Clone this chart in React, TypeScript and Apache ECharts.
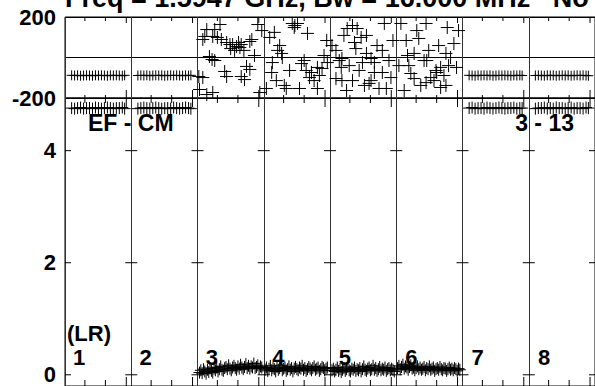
import React, { useEffect, useRef } from "react";
import * as echarts from "echarts";

// ---------- texts ----------
const titleText = "Freq = 1.5947 GHz, Bw = 16.000 MHz   No calibration applied";
const baselineLeft = "EF - CM";
const baselineRight = "3 - 13";
const stokesLabel = "(LR)";
const panelLabels = ["1", "2", "3", "4", "5", "6", "7", "8"];
const phaseLabelValues = [200, -200];
const ampLabelValues = [0, 2, 4];
const timeTickFractions = [0.3, 0.61, 0.925];
const phaseRange = [-200, 200];
const ampRange = [-0.2, 4.94];

// ---------- data: panels 1,2,7,8 (steady) ----------
const flatTimes = [0.1, 0.145, 0.19, 0.235, 0.28, 0.325, 0.37, 0.415, 0.46, 0.505, 0.55, 0.595, 0.64, 0.685, 0.73, 0.775, 0.82, 0.865, 0.9];
const phaseIF1 = [-88, -89, -88, -90, -89, -88, -89, -90, -88, -89, -88, -89, -90, -88, -89, -88, -89, -90, -88];
const phaseIF2 = [-89, -88, -89, -88, -90, -89, -88, -89, -88, -90, -89, -88, -89, -88, -89, -90, -88, -89, -88];
const phaseIF7 = [-88, -89, -90, -88, -89, -88, -89, -88, -90, -89, -88, -89, -88, -89, -90, -88, -89, -88, -89];
const phaseIF8 = [-89, -88, -89, -90, -88, -89, -88, -90, -89, -88, -89, -88, -90, -89, -88, -89, -88, -89, -90];
const ampIF1 = [4.76, 4.75, 4.76, 4.77, 4.75, 4.76, 4.76, 4.75, 4.77, 4.76, 4.75, 4.76, 4.77, 4.76, 4.75, 4.76, 4.76, 4.77, 4.75];
const ampIF2 = [4.75, 4.76, 4.77, 4.76, 4.75, 4.76, 4.77, 4.76, 4.75, 4.76, 4.76, 4.75, 4.77, 4.76, 4.75, 4.76, 4.77, 4.76, 4.75];
const ampIF7 = [4.76, 4.77, 4.75, 4.76, 4.76, 4.75, 4.77, 4.76, 4.75, 4.76, 4.77, 4.76, 4.75, 4.76, 4.76, 4.77, 4.75, 4.76, 4.76];
const ampIF8 = [4.75, 4.76, 4.76, 4.77, 4.75, 4.76, 4.75, 4.77, 4.76, 4.76, 4.75, 4.76, 4.77, 4.75, 4.76, 4.76, 4.75, 4.77, 4.76];

// ---------- data: panels 3-6 (noisy), [time fraction, value] ----------
const phaseIF3 = [[0.02,-94],[0.03,-158],[0.08,-99],[0.08,89],[0.11,104],[0.14,138],[0.14,-183],[0.18,5],[0.22,-10],[0.23,104],[0.23,-173],[0.26,138],[0.26,-15],[0.3,99],[0.34,163],[0.36,89],[0.41,-69],[0.44,74],[0.44,-94],[0.49,64],[0.5,44],[0.53,64],[0.56,35],[0.59,54],[0.62,74],[0.64,49],[0.66,64],[0.66,-94],[0.7,35],[0.71,-109],[0.74,-44],[0.79,79],[0.79,-59],[0.82,89],[0.86,10],[0.91,163],[0.94,-173],[0.97,133]];
const phaseIF4 = [[0.04,-153],[0.09,99],[0.12,-74],[0.13,-25],[0.16,124],[0.19,-114],[0.21,35],[0.24,59],[0.27,20],[0.28,0],[0.31,-138],[0.34,-153],[0.39,-64],[0.43,168],[0.46,148],[0.47,158],[0.51,168],[0.54,-153],[0.57,-30],[0.61,-15],[0.64,-64],[0.66,119],[0.69,-99],[0.72,-74],[0.76,-114],[0.81,-49],[0.81,-153],[0.84,-89],[0.88,-54],[0.91,10],[0.95,84],[0.96,-25]];
const phaseIF5 = [[0.03,59],[0.09,35],[0.09,-104],[0.14,-15],[0.17,-49],[0.18,-5],[0.18,-114],[0.21,109],[0.25,-163],[0.26,143],[0.29,-40],[0.34,158],[0.34,-114],[0.37,74],[0.39,44],[0.41,143],[0.44,-64],[0.47,99],[0.49,-25],[0.52,-138],[0.55,109],[0.55,20],[0.59,-128],[0.62,-5],[0.62,-114],[0.67,-25],[0.67,-74],[0.71,59],[0.74,-153],[0.79,35],[0.79,-74],[0.82,168],[0.85,-153],[0.89,-15],[0.92,-99],[0.95,84]];
const phaseIF6 = [[0.04,-40],[0.07,168],[0.12,-163],[0.15,84],[0.17,10],[0.19,-40],[0.22,-79],[0.27,20],[0.27,-104],[0.31,133],[0.34,94],[0.37,-138],[0.42,-15],[0.45,168],[0.45,-124],[0.46,-15],[0.49,35],[0.52,-99],[0.57,-114],[0.6,-64],[0.61,-74],[0.64,59],[0.67,-49],[0.67,-148],[0.72,-89],[0.75,20],[0.75,-138],[0.77,148],[0.79,-40],[0.82,0],[0.87,69],[0.91,-49],[0.94,133]];

const ampIF3 = [[0.03,0.04],[0.05,0.08],[0.07,0.03],[0.09,0.1],[0.11,0.06],[0.13,0.02],[0.15,0.09],[0.17,0.05],[0.19,0.12],[0.21,0.07],[0.23,0.04],[0.25,0.11],[0.27,0.08],[0.29,0.13],[0.31,0.06],[0.33,0.1],[0.35,0.15],[0.37,0.09],[0.39,0.07],[0.41,0.12],[0.43,0.14],[0.45,0.1],[0.47,0.17],[0.49,0.11],[0.51,0.08],[0.53,0.13],[0.55,0.16],[0.57,0.12],[0.59,0.09],[0.61,0.15],[0.63,0.11],[0.65,0.18],[0.67,0.13],[0.69,0.1],[0.71,0.14],[0.73,0.19],[0.75,0.12],[0.77,0.16],[0.79,0.11],[0.81,0.15],[0.83,0.13],[0.85,0.2],[0.87,0.12],[0.89,0.14],[0.91,0.17],[0.93,0.11],[0.95,0.15],[0.97,0.13]];
const ampIF4 = [[0.02,0.09],[0.04,0.13],[0.06,0.07],[0.08,0.11],[0.1,0.16],[0.12,0.08],[0.14,0.12],[0.16,0.1],[0.18,0.06],[0.2,0.14],[0.22,0.09],[0.24,0.12],[0.26,0.17],[0.28,0.08],[0.3,0.11],[0.32,0.13],[0.34,0.07],[0.36,0.1],[0.38,0.15],[0.4,0.09],[0.42,0.12],[0.44,0.06],[0.46,0.11],[0.48,0.14],[0.5,0.1],[0.52,0.08],[0.54,0.13],[0.56,0.11],[0.58,0.16],[0.6,0.09],[0.62,0.12],[0.64,0.07],[0.66,0.1],[0.68,0.14],[0.7,0.11],[0.72,0.08],[0.74,0.12],[0.76,0.15],[0.78,0.09],[0.8,0.11],[0.82,0.13],[0.84,0.07],[0.86,0.1],[0.88,0.14],[0.9,0.12],[0.92,0.08],[0.94,0.11],[0.96,0.13]];
const ampIF5 = [[0.03,0.08],[0.05,0.11],[0.07,0.06],[0.09,0.09],[0.11,0.13],[0.13,0.07],[0.15,0.1],[0.17,0.05],[0.19,0.09],[0.21,0.12],[0.23,0.07],[0.25,0.1],[0.27,0.14],[0.29,0.08],[0.31,0.06],[0.33,0.11],[0.35,0.09],[0.37,0.13],[0.39,0.07],[0.41,0.1],[0.43,0.08],[0.45,0.12],[0.47,0.06],[0.49,0.1],[0.51,0.15],[0.53,0.09],[0.55,0.07],[0.57,0.11],[0.59,0.13],[0.61,0.08],[0.63,0.1],[0.65,0.16],[0.67,0.09],[0.69,0.12],[0.71,0.07],[0.73,0.1],[0.75,0.14],[0.77,0.08],[0.79,0.11],[0.81,0.09],[0.83,0.13],[0.85,0.07],[0.87,0.1],[0.89,0.12],[0.91,0.08],[0.93,0.11],[0.95,0.09],[0.97,0.06]];
const ampIF6 = [[0.02,0.12],[0.04,0.16],[0.06,0.1],[0.08,0.14],[0.1,0.18],[0.12,0.11],[0.14,0.15],[0.16,0.13],[0.18,0.09],[0.2,0.14],[0.22,0.17],[0.24,0.11],[0.26,0.13],[0.28,0.08],[0.3,0.12],[0.32,0.15],[0.34,0.1],[0.36,0.13],[0.38,0.09],[0.4,0.11],[0.42,0.14],[0.44,0.08],[0.46,0.12],[0.48,0.1],[0.5,0.15],[0.52,0.09],[0.54,0.11],[0.56,0.13],[0.58,0.07],[0.6,0.1],[0.62,0.12],[0.64,0.09],[0.66,0.14],[0.68,0.1],[0.7,0.08],[0.72,0.12],[0.74,0.11],[0.76,0.07],[0.78,0.1],[0.8,0.13],[0.82,0.09],[0.84,0.11],[0.86,0.08],[0.88,0.12],[0.9,0.1],[0.92,0.07],[0.94,0.11],[0.96,0.09]];

const FONT = "'Liberation Sans', Arial, Helvetica, sans-serif";

function zipFlat(times: number[], vals: number[]) {
  return times.map((t, i) => [t, vals[i]]);
}

function toPanelPoints(perPanel: (number[][] | null)[]) {
  const out: number[][] = [];
  perPanel.forEach((arr, i) => {
    if (!arr) return;
    arr.forEach(([t, v]) => out.push([i + t, v]));
  });
  return out;
}

function plus(half: number) {
  return (_params: any, api: any) => {
    const c = api.coord([api.value(0), api.value(1)]);
    return {
      type: "group",
      children: [
        { type: "line", shape: { x1: c[0] - half, y1: c[1], x2: c[0] + half, y2: c[1] }, style: { stroke: "#000", lineWidth: 1 } },
        { type: "line", shape: { x1: c[0], y1: c[1] - half, x2: c[0], y2: c[1] + half }, style: { stroke: "#000", lineWidth: 1 } },
      ],
    };
  };
}

export default function App() {
  const ref = useRef<HTMLDivElement>(null);

  useEffect(() => {
    if (!ref.current) return;
    const chart = echarts.init(ref.current, null, { renderer: "svg" });

    const flatPhase = toPanelPoints([
      zipFlat(flatTimes, phaseIF1), zipFlat(flatTimes, phaseIF2), null, null, null, null,
      zipFlat(flatTimes, phaseIF7), zipFlat(flatTimes, phaseIF8),
    ]);
    const flatAmp = toPanelPoints([
      zipFlat(flatTimes, ampIF1), zipFlat(flatTimes, ampIF2), null, null, null, null,
      zipFlat(flatTimes, ampIF7), zipFlat(flatTimes, ampIF8),
    ]);
    const noisyPhase = toPanelPoints([null, null, phaseIF3, phaseIF4, phaseIF5, phaseIF6, null, null]);
    const noisyAmp = toPanelPoints([null, null, ampIF3, ampIF4, ampIF5, ampIF6, null, null]);

    const xTicks: number[][] = [];
    panelLabels.forEach((_l, i) =>
      timeTickFractions.forEach((f, k) => xTicks.push([i + f, k === timeTickFractions.length - 1 ? 1 : 0]))
    );
    const yTicks: number[][] = [];
    for (let b = 0; b <= panelLabels.length; b++) ampLabelValues.forEach((v) => yTicks.push([b, v]));

    const left = 65;
    const panelW = 66.43;
    const gridW = panelW * panelLabels.length;

    const axisLabelStyle = { color: "#000", fontSize: 22, fontWeight: "bold", fontFamily: FONT, margin: 9 };

    const graphics: any[] = [
      { type: "text", x: 65, y: -2, style: { text: titleText, fill: "#000", fontSize: 27, fontWeight: "bold", fontFamily: FONT, textAlign: "left", textVerticalAlign: "middle" } },
      { type: "text", x: 88, y: 123, style: { text: baselineLeft, fill: "#000", fontSize: 23, fontWeight: "bold", fontFamily: FONT, textAlign: "left", textVerticalAlign: "middle" } },
      { type: "text", x: 574, y: 123, style: { text: baselineRight, fill: "#000", fontSize: 23, fontWeight: "bold", fontFamily: FONT, textAlign: "right", textVerticalAlign: "middle" } },
      { type: "text", x: 67, y: 333, style: { text: stokesLabel, fill: "#000", fontSize: 22, fontWeight: "bold", fontFamily: FONT, textAlign: "left", textVerticalAlign: "middle" } },
      ...panelLabels.map((lab, i) => ({
        type: "text", x: left + i * panelW + 8, y: 357,
        style: { text: lab, fill: "#000", fontSize: 22, fontWeight: "bold", fontFamily: FONT, textAlign: "left", textVerticalAlign: "middle" },
      })),
    ];

    chart.setOption({
      animation: false,
      backgroundColor: "#fff",
      grid: [
        { left, top: 17, width: gridW, height: 81, show: true, borderColor: "#000", borderWidth: 1 },
        { left, top: 98, width: gridW, height: 289.25, show: true, borderColor: "#000", borderWidth: 1 },
      ],
      xAxis: [0, 1].map((g) => ({
        type: "value", gridIndex: g, min: 0, max: panelLabels.length, interval: 1,
        axisLine: { show: false }, axisTick: { show: false }, axisLabel: { show: false },
        splitLine: { show: true, lineStyle: { color: "#333", width: 1 } },
      })),
      yAxis: [
        {
          type: "value", gridIndex: 0, min: phaseRange[0], max: phaseRange[1], interval: 200,
          axisLine: { show: false }, axisTick: { show: false },
          axisLabel: { ...axisLabelStyle, customValues: phaseLabelValues },
          splitLine: { show: true, lineStyle: { color: "#000", width: 1 } },
        },
        {
          type: "value", gridIndex: 1, min: ampRange[0], max: ampRange[1],
          axisLine: { show: false }, axisTick: { show: false },
          axisLabel: { ...axisLabelStyle, customValues: ampLabelValues },
          splitLine: { show: false },
        },
      ],
      graphic: graphics,
      series: [
        {
          type: "custom", name: "phaseTicks", xAxisIndex: 0, yAxisIndex: 0, data: xTicks, silent: true, z: 3,
          renderItem: (_p: any, api: any) => {
            const xv = api.value(0);
            const long = api.value(1) === 1;
            const top = api.coord([xv, phaseRange[1]]);
            const bot = api.coord([xv, phaseRange[0]]);
            return {
              type: "group",
              children: [
                { type: "line", shape: { x1: top[0], y1: top[1], x2: top[0], y2: top[1] + (long ? 6 : 4) }, style: { stroke: "#000", lineWidth: 1 } },
                { type: "line", shape: { x1: bot[0], y1: bot[1] - (long ? 8 : 3), x2: bot[0], y2: bot[1] + (long ? 9 : 5) }, style: { stroke: "#000", lineWidth: 1 } },
              ],
            };
          },
        },
        {
          type: "custom", name: "ampTicks", xAxisIndex: 1, yAxisIndex: 1, data: xTicks, silent: true, z: 3,
          renderItem: (_p: any, api: any) => {
            const xv = api.value(0);
            const long = api.value(1) === 1;
            const bot = api.coord([xv, ampRange[0]]);
            return { type: "line", shape: { x1: bot[0], y1: bot[1] - (long ? 9 : 6), x2: bot[0], y2: bot[1] }, style: { stroke: "#000", lineWidth: 1 } };
          },
        },
        {
          type: "custom", name: "ampYTicks", xAxisIndex: 1, yAxisIndex: 1, data: yTicks, silent: true, z: 3,
          renderItem: (_p: any, api: any) => {
            const b = api.value(0);
            const c = api.coord([b, api.value(1)]);
            return { type: "line", shape: { x1: c[0] - (b === 0 ? 0 : 6), y1: c[1], x2: c[0] + 6, y2: c[1] }, style: { stroke: "#000", lineWidth: 1 } };
          },
        },
        { type: "custom", name: "phaseSteady", xAxisIndex: 0, yAxisIndex: 0, data: flatPhase, renderItem: plus(5), z: 4 },
        { type: "custom", name: "phaseNoisy", xAxisIndex: 0, yAxisIndex: 0, data: noisyPhase, renderItem: plus(6.5), z: 4 },
        { type: "custom", name: "ampSteady", xAxisIndex: 1, yAxisIndex: 1, data: flatAmp, renderItem: plus(6), z: 4 },
        { type: "custom", name: "ampNoisy", xAxisIndex: 1, yAxisIndex: 1, data: noisyAmp, renderItem: plus(6), z: 4 },
      ],
    });

    return () => chart.dispose();
  }, []);

  return (
    <div
      ref={ref}
      style={{ position: "fixed", left: 0, top: 0, width: 595, height: 386, background: "#fff" }}
    />
  );
}
